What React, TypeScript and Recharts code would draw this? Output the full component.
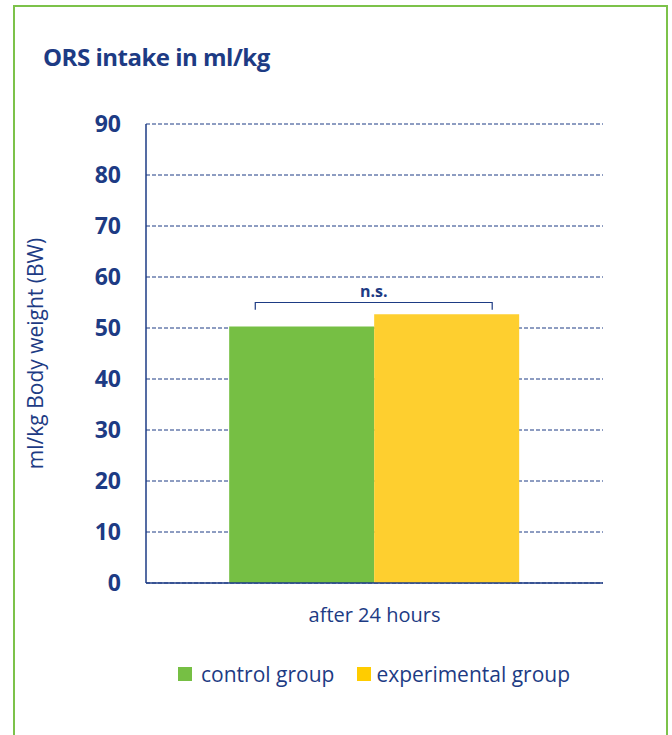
import { FC } from 'react'
import { BarChart, Bar, XAxis, YAxis, CartesianGrid } from 'recharts'

const categories = ['after 24 hours']
const controlValues = [50.3]
const experimentalValues = [52.7]
const yTicks = [0, 10, 20, 30, 40, 50, 60, 70, 80, 90]

// n.s. bracket: level in data units, ends as a share of the bar width
const bracketLevel = 55
const bracketFoot = 53.6
const bracketLeftShare = 0.18 // from the left edge of the control bar
const bracketRightShare = 0.814 // from the left edge of the experimental bar

const BLUE = '#1d3b84'
const GREEN = '#76bf44'
const YELLOW = '#fecf2f'
const FONT = '"Open Sans", sans-serif'

const data = categories.map((name, i) => ({
  name,
  control: controlValues[i],
  experimental: experimentalValues[i],
}))

// drawn from the experimental bar: its own box gives the y scale and bar width
const Bracket = (props: any) => {
  const { x, y, width, height, value } = props
  const perUnit = height / value
  const base = y + height
  const yLevel = base - bracketLevel * perUnit
  const yFoot = base - bracketFoot * perUnit
  const left = x - width + bracketLeftShare * width
  const right = x + bracketRightShare * width
  return (
    <g>
      <path
        d={`M${left},${yFoot}V${yLevel}H${right}V${yFoot}`}
        fill="none"
        stroke={BLUE}
        strokeWidth={1.2}
      />
      <text
        x={(left + right) / 2}
        y={yLevel - 6}
        textAnchor="middle"
        fill={BLUE}
        fontSize={16}
        fontWeight={700}
        fontFamily={FONT}
      >
        n.s.
      </text>
    </g>
  )
}

const App: FC = () => {
  return (
    <div
      style={{
        position: 'absolute',
        left: 0,
        top: 0,
        width: 672,
        height: 735,
        overflow: 'hidden',
        background: '#fff',
        fontFamily: FONT,
      }}
    >
      <div
        style={{
          position: 'absolute',
          left: 13,
          top: 5,
          width: 651,
          height: 800,
          border: '2px solid #7cc24a',
        }}
      />
      <div
        style={{
          position: 'absolute',
          left: 43,
          top: 40,
          fontSize: 24,
          fontWeight: 700,
          color: BLUE,
          letterSpacing: -0.5,
        }}
      >
        ORS intake in ml/kg
      </div>
      <div style={{ position: 'absolute', left: 0, top: 0 }}>
        <BarChart
          width={672}
          height={660}
          data={data}
          margin={{ top: 124, right: 69, bottom: 17, left: 0 }}
          barCategoryGap="18.2%"
          barGap={0}
        >
          <CartesianGrid
            vertical={false}
            stroke={BLUE}
            strokeDasharray="4 2"
          />
          <XAxis
            dataKey="name"
            axisLine={{ stroke: BLUE, strokeWidth: 1.5 }}
            tickLine={false}
            tickMargin={19}
            height={60}
            tick={{ fill: BLUE, fontSize: 20, fontFamily: FONT }}
          />
          <YAxis
            domain={[0, 90]}
            ticks={yTicks}
            width={146}
            axisLine={{ stroke: BLUE, strokeWidth: 1.5 }}
            tickLine={false}
            tickMargin={19}
            interval={0}
            tick={{ fill: BLUE, fontSize: 23, fontWeight: 700, fontFamily: FONT }}
            label={{
              value: 'ml/kg Body weight (BW)',
              angle: -90,
              position: 'insideLeft',
              offset: 36,
              style: { fill: BLUE, fontSize: 21, fontFamily: FONT, textAnchor: 'middle' },
            }}
          />
          <Bar dataKey="control" fill={GREEN} isAnimationActive={false} />
          <Bar
            dataKey="experimental"
            fill={YELLOW}
            isAnimationActive={false}
            label={<Bracket />}
          />
        </BarChart>
      </div>
      <div
        style={{
          position: 'absolute',
          left: 178,
          top: 660,
          display: 'flex',
          alignItems: 'center',
          fontSize: 21,
          color: BLUE,
          whiteSpace: 'nowrap',
        }}
      >
        <span style={{ width: 14, height: 14, background: GREEN, display: 'inline-block', marginRight: 9 }} />
        <span style={{ marginRight: 23 }}>control group</span>
        <span style={{ width: 14, height: 14, background: '#ffcc00', display: 'inline-block', marginRight: 5 }} />
        <span>experimental group</span>
      </div>
    </div>
  )
}

export default App
